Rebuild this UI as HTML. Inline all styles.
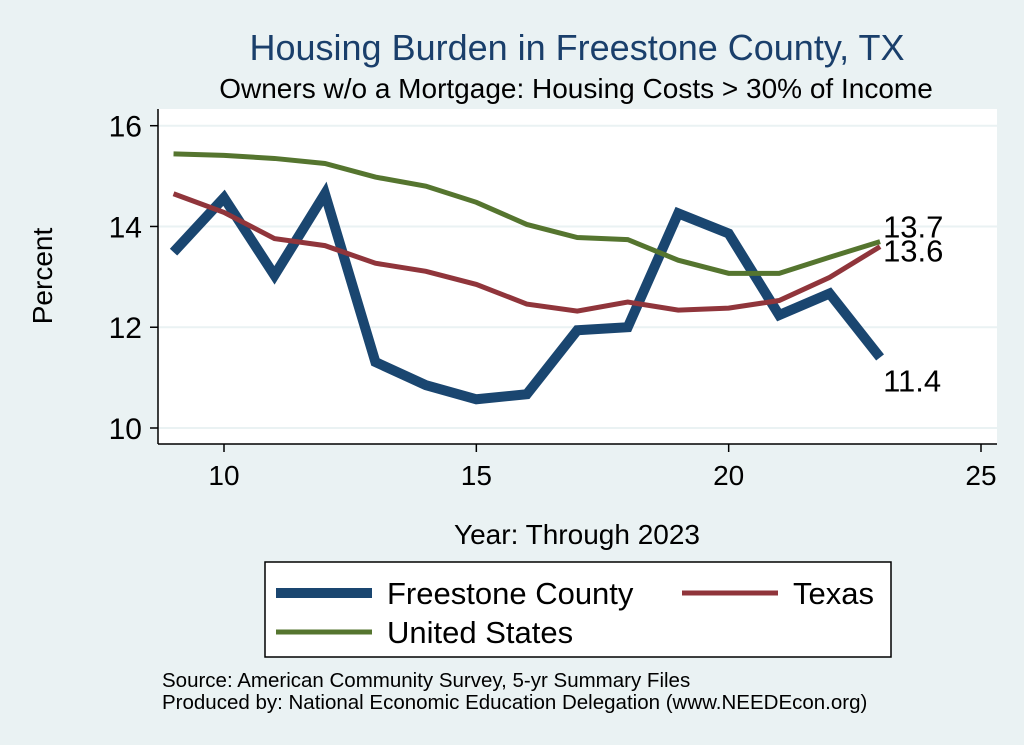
<!DOCTYPE html>
<html><head><meta charset="utf-8"><style>
body{margin:0;background:#eaf2f3;}
svg{display:block;font-family:"Liberation Sans",Arial,sans-serif;}
</style></head><body>
<svg width="1024" height="745" viewBox="0 0 1024 745">
<rect x="0" y="0" width="1024" height="745" fill="#eaf2f3"/>
<text x="577" y="60" font-size="36" fill="#1a3f6b" text-anchor="middle">Housing Burden in Freestone County, TX</text>
<text x="576" y="98" font-size="28" fill="#000" text-anchor="middle">Owners w/o a Mortgage: Housing Costs &gt; 30% of Income</text>
<rect x="158" y="109" width="839" height="335" fill="#fff"/>
<g id="grid"></g>
<g id="series"></g>
<g id="axes"></g>
<text x="52" y="276" font-size="28" text-anchor="middle" transform="rotate(-90 52 276)">Percent</text>
<text x="577" y="544" font-size="28" text-anchor="middle">Year: Through 2023</text>
<g>
<rect x="265" y="562" width="626" height="95" fill="#fff" stroke="#000" stroke-width="1.5"/>
<g>
<line x1="276" y1="593" x2="372" y2="593" stroke="#1a4670" stroke-width="10"/>
<text x="387" y="604" font-size="31">Freestone County</text></g>
<g>
<line x1="682" y1="593" x2="778" y2="593" stroke="#90353b" stroke-width="5"/>
<text x="793" y="604" font-size="31">Texas</text></g>
<g>
<line x1="276" y1="632" x2="372" y2="632" stroke="#55752f" stroke-width="5"/>
<text x="387" y="643" font-size="31">United States</text></g>
</g>
<text x="162" y="687" font-size="20.5">Source: American Community Survey, 5-yr Summary Files</text>
<text x="162" y="709" font-size="20.5">Produced by: National Economic Education Delegation (www.NEEDEcon.org)</text>
</svg>
<script>
const years=[9,10,11,12,13,14,15,16,17,18,19,20,21,22,23];
const freestone=[13.49,14.57,13.03,14.65,11.31,10.85,10.57,10.67,11.94,12.0,14.26,13.86,12.24,12.67,11.4];
const texas=[14.65,14.28,13.76,13.62,13.27,13.11,12.85,12.46,12.32,12.5,12.34,12.38,12.53,12.99,13.6];
const us=[15.44,15.41,15.35,15.25,14.98,14.8,14.48,14.04,13.78,13.74,13.33,13.07,13.07,13.39,13.7];
const xTicks=[10,15,20,25];
const yTicks=[10,12,14,16];
const NS="http://www.w3.org/2000/svg";
function xs(v){return 224+(v-10)*(981-224)/15;}
function ys(v){return 428-(v-10)*(428-125.7)/6;}
function mk(tag,attrs,parent){const e=document.createElementNS(NS,tag);for(const k in attrs)e.setAttribute(k,attrs[k]);parent.appendChild(e);return e;}
const grid=document.getElementById('grid'),axes=document.getElementById('axes'),ser=document.getElementById('series');
yTicks.forEach(t=>{
 const g=mk('line',{x1:158,x2:997,y1:ys(t),y2:ys(t),stroke:'#eaf2f3','stroke-width':2},grid);
 
 
 const tk=mk('line',{x1:150,x2:158,y1:ys(t),y2:ys(t),stroke:'#000','stroke-width':1.5},axes);
 
 
 const lb=mk('text',{x:142,y:ys(t)+11,'font-size':30,'text-anchor':'end'},axes);
 lb.textContent=t;
 
 
});
xTicks.forEach(t=>{
 const tk=mk('line',{x1:xs(t),x2:xs(t),y1:444,y2:452,stroke:'#000','stroke-width':1.5},axes);
 
 
 const lb=mk('text',{x:xs(t),y:485,'font-size':28,'text-anchor':'middle'},axes);
 lb.textContent=t;
 
 
});
const ya=mk('line',{x1:158,x2:158,y1:109,y2:444,stroke:'#000','stroke-width':1.5},axes);


const xa=mk('line',{x1:158,x2:997,y1:444,y2:444,stroke:'#000','stroke-width':1.5},axes);


function line(vals,color,w,name){
 const p=mk('polyline',{points:vals.map((v,i)=>xs(years[i])+','+ys(v)).join(' '),fill:'none',stroke:color,'stroke-width':w,'stroke-linejoin':'miter'},ser);
 
 
}
line(freestone,'#1a4670',10,'line-freestone');
line(us,'#55752f',5,'line-us');
line(texas,'#90353b',5,'line-texas');
const last=years.length-1;
[[us[last],-4,'label-us'],[texas[last],15,'label-texas'],[freestone[last],34,'label-freestone']].forEach(([v,dy,n])=>{
 const t=mk('text',{x:xs(years[last])+3,y:ys(v)+dy,'font-size':31},ser);
 t.textContent=v.toFixed(1);
 
 
});
</script>
</body></html>
